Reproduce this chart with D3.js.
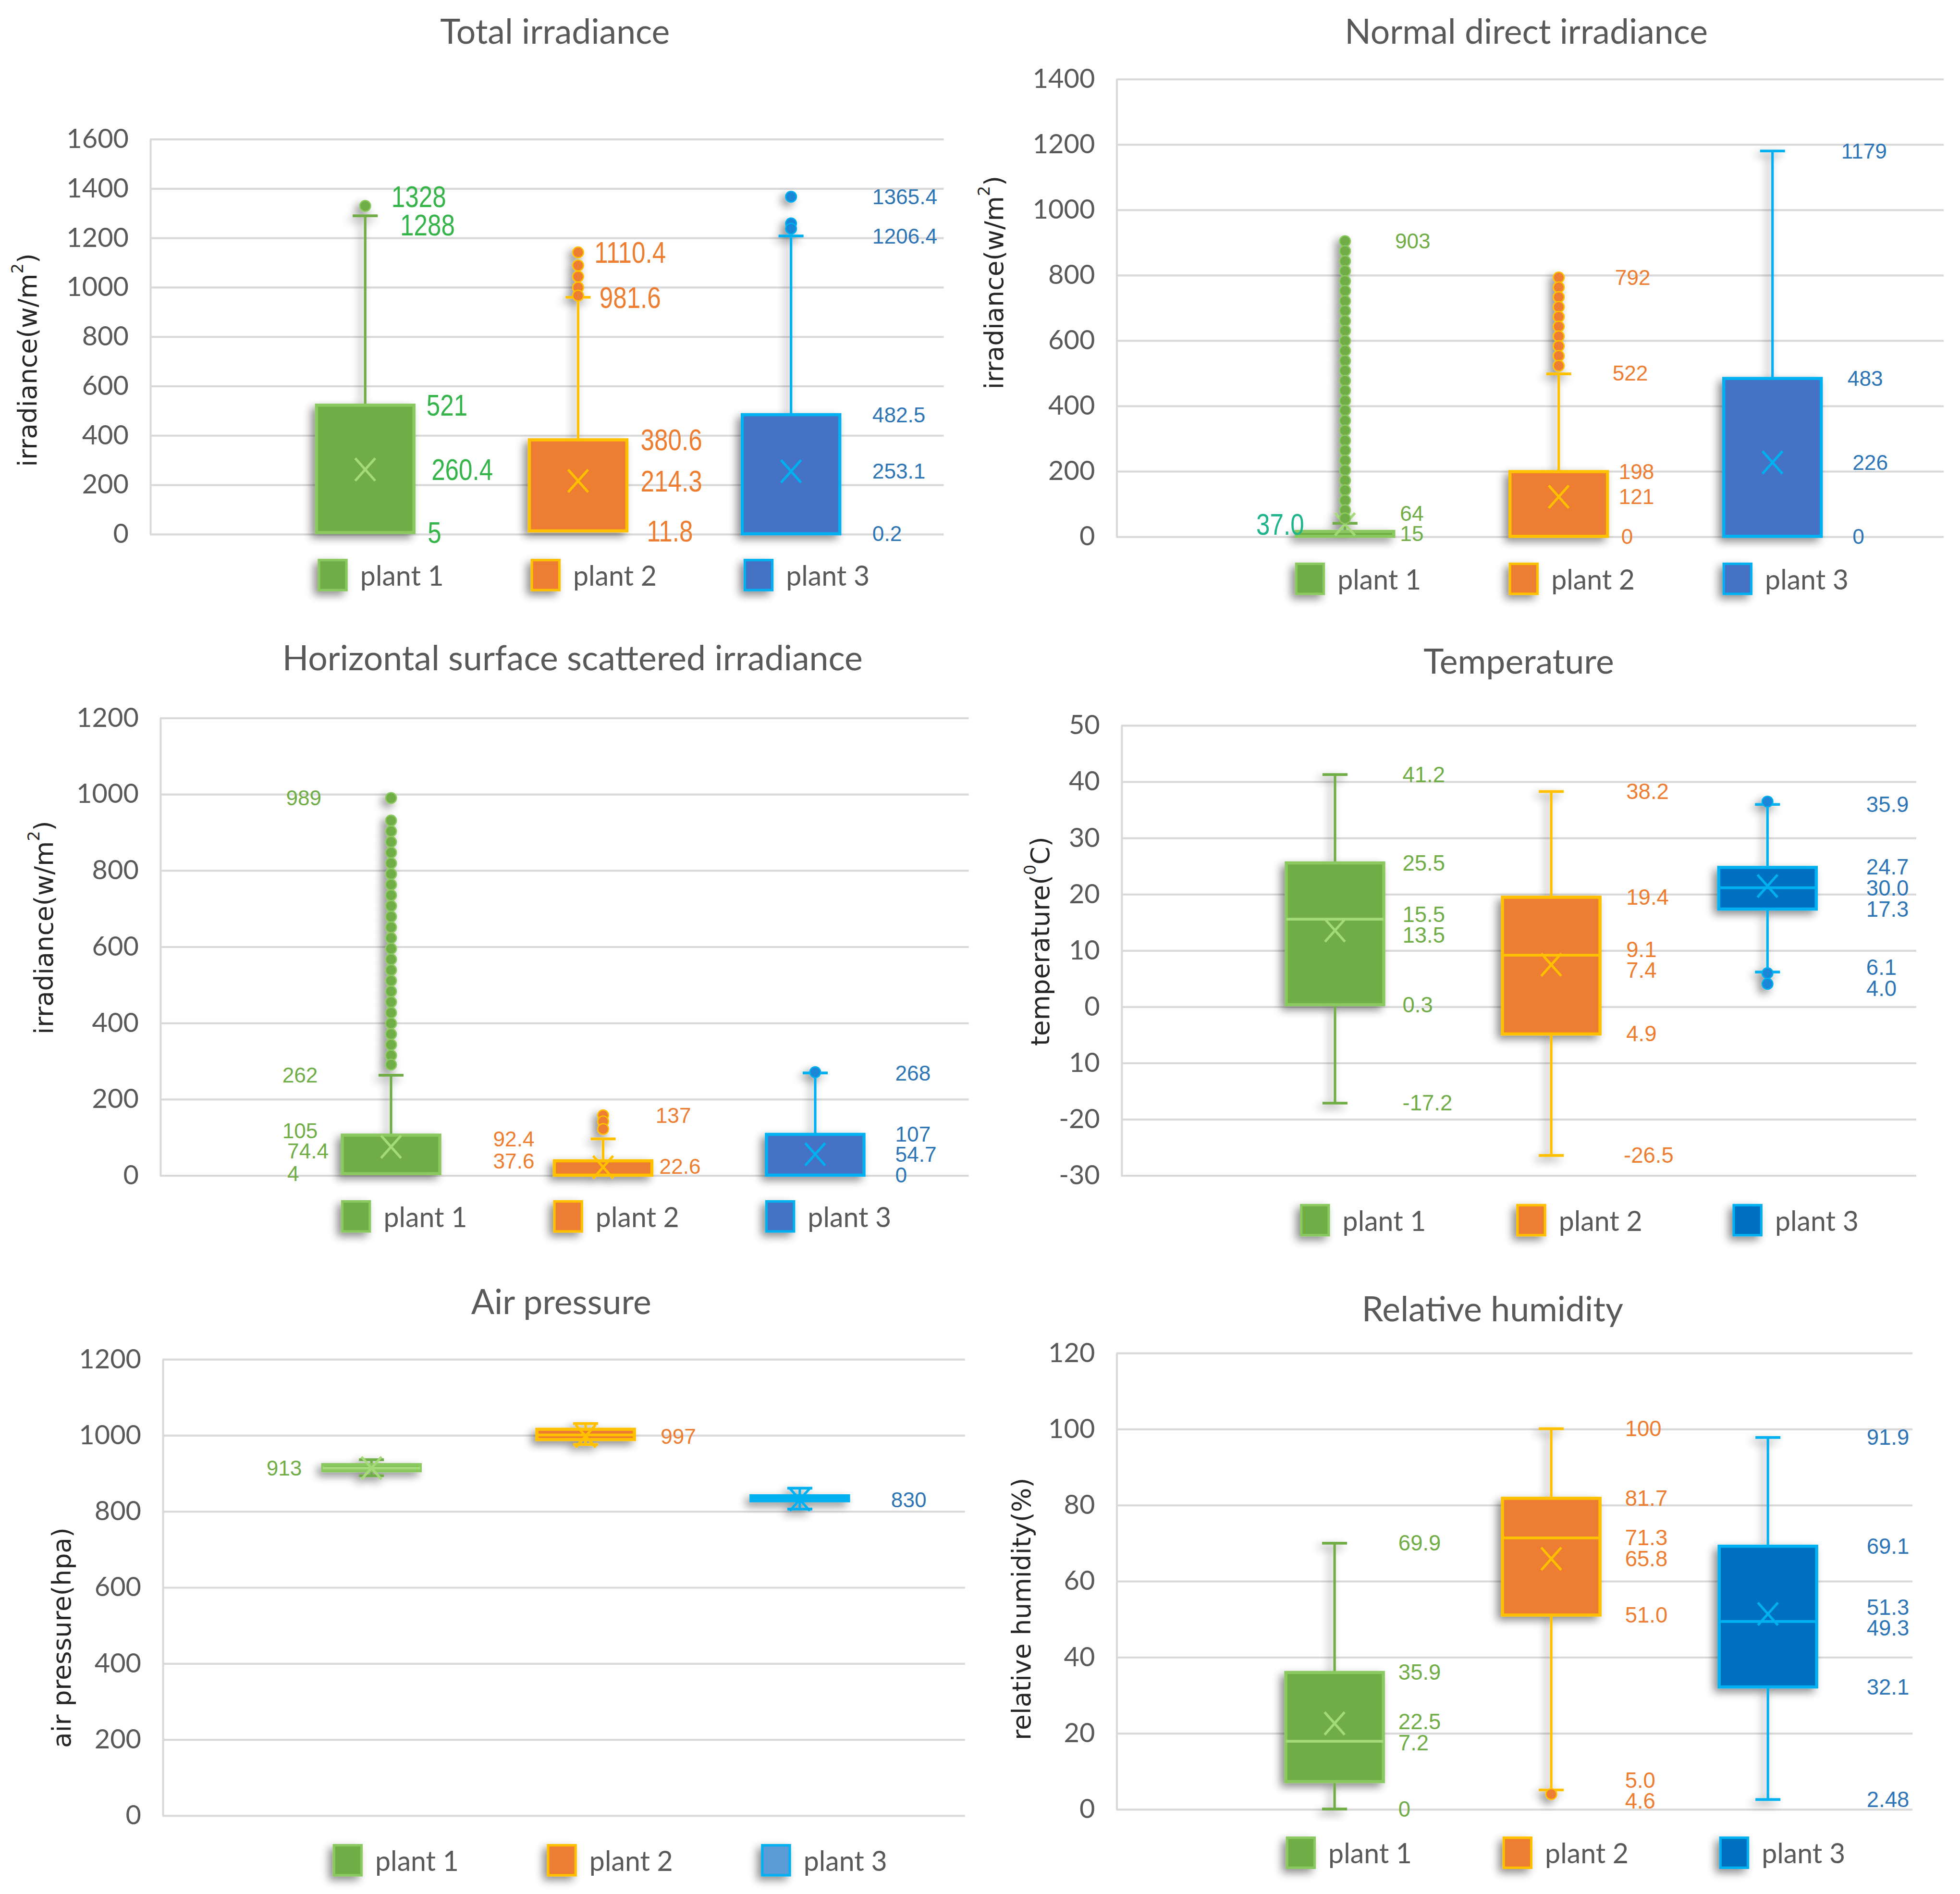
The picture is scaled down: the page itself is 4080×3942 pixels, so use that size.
<!DOCTYPE html>
<html lang="en">
<head>
<meta charset="UTF-8">
<title>Plant box plots</title>
<script src="https://cdn.jsdelivr.net/npm/d3@7"></script>
<style>
  body { margin: 0; background: #fff; }
  svg { display: block; }
</style>
</head>
<body>
<div id="chart"></div>
<script>
// ---- data ----
var plants = ["plant 1", "plant 2", "plant 3"];

// each box: [lower whisker, Q1, median, Q3, upper whisker, mean]
// tags: [value where the tag sits, printed text]
var totalBox = [
  [5, 5, null, 521, 1288, 260.4],
  [11.8, 11.8, null, 380.6, 958, 214.3],
  [0.2, 0.2, null, 482.5, 1206.4, 253.1]
];
var totalOut = [[1328], [1140, 1087, 1042, 998, 965], [1365.4, 1257, 1236]];
var totalTags = [
  [[1328, "1328"], [1288, "1288"], [521, "521"], [260.4, "260.4"], [5, "5"]],
  [[1140, "1110.4"], [958, "981.6"], [380.6, "380.6"], [214.3, "214.3"], [11.8, "11.8"]],
  [[1365.4, "1365.4"], [1206.4, "1206.4"], [482.5, "482.5"], [253.1, "253.1"], [0.2, "0.2"]]
];
var totalTicks = [0, 200, 400, 600, 800, 1000, 1200, 1400, 1600];

var directBox = [
  [0, 0, null, 15, 40, 37],
  [0, 0, null, 198, 497, 121],
  [0, 0, null, 483, 1179, 226]
];
var directOut = [
  [903, 873, 842, 812, 781, 751, 720, 690, 659, 629, 598, 568, 537, 507, 476, 446, 415, 385, 354, 324, 293, 263, 232, 202, 171, 141, 110, 80, 55],
  [792, 762, 732, 702, 672, 642, 612, 582, 552, 522],
  []
];
var directTags = [
  [[903, "903"], [64, "64"], [15, "15"], [37, "37.0"]],
  [[792, "792"], [500, "522"], [198, "198"], [121, "121"], [0, "0"]],
  [[1179, "1179"], [483, "483"], [226, "226"], [0, "0"]]
];
var directTicks = [0, 200, 400, 600, 800, 1000, 1200, 1400];

var diffuseBox = [
  [4, 4, null, 105, 262, 74.4],
  [0, 0, null, 37.6, 95, 21],
  [0, 0, null, 107, 268, 54.7]
];
var diffuseOut = [
  [989, 930, 902, 874, 846, 818, 790, 762, 734, 706, 678, 650, 622, 594, 566, 538, 510, 482, 454, 426, 398, 370, 342, 314, 290],
  [157, 141, 121],
  [270]
];
var diffuseTags = [
  [[989, "989"], [262, "262"], [105, "105"], [74.4, "74.4"], [4, "4"]],
  [[95, "92.4"], [37.6, "37.6"], [157, "137"], [22.6, "22.6"]],
  [[268, "268"], [107, "107"], [54.7, "54.7"], [0, "0"]]
];
var diffuseTicks = [0, 200, 400, 600, 800, 1000, 1200];

var tempBox = [
  [-17.2, 0.3, 15.5, 25.5, 41.2, 13.5],
  [-26.5, -4.9, 9.1, 19.4, 38.2, 7.4],
  [6.1, 17.3, 21.1, 24.7, 35.9, 21.4]
];
var tempOut = [[], [], [36.4, 5.9, 4.0]];
var tempTags = [
  [[41.2, "41.2"], [25.5, "25.5"], [15.5, "15.5"], [13.5, "13.5"], [0.3, "0.3"], [-17.2, "-17.2"]],
  [[38.2, "38.2"], [19.4, "19.4"], [9.1, "9.1"], [7.4, "7.4"], [-4.9, "4.9"], [-26.5, "-26.5"]],
  [[35.9, "35.9"], [24.7, "24.7"], [21.1, "30.0"], [17.3, "17.3"], [6.1, "6.1"], [4.0, "4.0"]]
];
var tempTicks = [-30, -20, -10, 0, 10, 20, 30, 40, 50];
var tempTickText = ["-30", "-20", "10", "0", "10", "20", "30", "40", "50"];

var pressBox = [
  [893, 906, 913, 922, 935, 913],
  [975, 988, 1000, 1015, 1030, 997],
  [805, 827, 834, 840, 860, 830]
];
var pressOut = [[], [], []];
var pressTags = [[[913, "913"]], [[997, "997"]], [[830, "830"]]];
var pressTicks = [0, 200, 400, 600, 800, 1000, 1200];

var humidBox = [
  [0, 7.2, 17.8, 35.9, 69.9, 22.5],
  [5.0, 51.0, 71.3, 81.7, 100, 65.8],
  [2.48, 32.1, 49.3, 69.1, 97.7, 51.3]
];
var humidOut = [[], [3.9], []];
var humidTags = [
  [[69.9, "69.9"], [35.9, "35.9"], [22.5, "22.5"], [17.8, "7.2"], [0, "0"]],
  [[100, "100"], [81.7, "81.7"], [71.3, "71.3"], [65.8, "65.8"], [51.0, "51.0"], [5.0, "5.0"], [4.6, "4.6"]],
  [[97.7, "91.9"], [69.1, "69.1"], [51.3, "51.3"], [49.3, "49.3"], [32.1, "32.1"], [2.48, "2.48"]]
];
var humidTicks = [0, 20, 40, 60, 80, 100, 120];

// ---- layout (drawing units, scaled to the page by the viewBox) ----
var W = 1568, H = 1515;
var panels = [
  { title: "Total irradiance", tx: 444, ty: 35, yl: ["irradiance(w/m", "2", ")"], ylx: 22, yly: 288,
    box: totalBox, out: totalOut, tags: totalTags, ticks: totalTicks, domain: [0, 1600],
    x0: 120, x1: 755, top: 111, bot: 427, band: [207, 718], legY: 460, legOff: -37,
    dx: [[21, 28, 49, 53, 50], [13, 17, 50, 50, 55], [65]], size: [24, 24, 17], narrow: [true, true, false],
    tagColor: ["#35B44A", "#ED7D31", "#2E75B6"], fill3: "#4472C4", leg3: "#4472C4" },
  { title: "Normal direct irradiance", tx: 1221, ty: 35, yl: ["irradiance(w/m", "2", ")"], ylx: 795, yly: 226,
    box: directBox, out: directOut, tags: directTags, ticks: directTicks, domain: [0, 1400],
    x0: 893, x1: 1555, top: 63, bot: 429, band: [990.5, 1503.5], legY: 463, legOff: -39,
    dx: [[40, 44, 44, -71], [45, 43, 48, 48, 50], [55, 60, 64, 64]], size: [17, 17, 17], narrow: [false, false, false],
    tagColor: ["#70AD47", "#ED7D31", "#2E75B6"], fill3: "#4472C4", leg3: "#4472C4",
    big: { k: 0, i: 3, color: "#1FB48C" } },
  { title: "Horizontal surface scattered irradiance", tx: 458, ty: 536, yl: ["irradiance(w/m", "2", ")"], ylx: 35, yly: 742,
    box: diffuseBox, out: diffuseOut, tags: diffuseTags, ticks: diffuseTicks, domain: [0, 1200],
    x0: 128, x1: 775, top: 574, bot: 940, band: [228, 737], legY: 973, legOff: -39,
    dx: [[-84, -87, -87, -83, -83], [-88, -88, 42, 45], [64]], size: [17, 17, 17], narrow: [false, false, false],
    tagColor: ["#70AD47", "#ED7D31", "#2E75B6"], fill3: "#4472C4", leg3: "#4472C4" },
  { title: "Temperature", tx: 1215, ty: 539, yl: ["temperature(", "0", "C)"], ylx: 832, yly: 753,
    box: tempBox, out: tempOut, tags: tempTags, ticks: tempTicks, tickText: tempTickText, domain: [-30, 50],
    x0: 897, x1: 1533, top: 580, bot: 940, band: [981.5, 1500.5], legY: 976, legOff: -27,
    dx: [[54], [60, 60, 60, 60, 60, 58], [79]], size: [17.5, 17.5, 17.5], narrow: [false, false, false],
    tagColor: ["#70AD47", "#ED7D31", "#2E75B6"], fill3: "#0070C0", leg3: "#0070C0" },
  { title: "Air pressure", tx: 449, ty: 1051, yl: ["air pressure(hpa)"], ylx: 49, yly: 1310,
    box: pressBox, out: pressOut, tags: pressTags, ticks: pressTicks, domain: [0, 1200],
    x0: 130, x1: 772, top: 1087, bot: 1452, band: [211.5, 725.5], legY: 1488, legOff: -30,
    dx: [[-84], [60], [73]], size: [17, 17, 17], narrow: [false, false, false],
    tagColor: ["#70AD47", "#ED7D31", "#2E75B6"], fill3: "#00B0F0", leg3: "#5B9BD5" },
  { title: "Relative humidity", tx: 1194, ty: 1057, yl: ["relative humidity(%)"], ylx: 817, yly: 1287,
    box: humidBox, out: humidOut, tags: humidTags, ticks: humidTicks, domain: [0, 120],
    x0: 893, x1: 1530, top: 1082, bot: 1447, band: [981, 1501], legY: 1482, legOff: -38,
    dx: [[51], [59], [79]], size: [17.5, 17.5, 17.5], narrow: [false, false, false],
    tagColor: ["#70AD47", "#ED7D31", "#2E75B6"], fill3: "#0070C0", leg3: "#0070C0" }
];

var edgeCol = ["#8BC860", "#FFC000", "#00B0F0"];
var lineCol = ["#70AD47", "#FFC000", "#00B0F0"];
var markCol = ["#A4DA7A", "#FFC000", "#00B0F0"];
var dotCol = ["#70AD47", "#ED7D31", "#1A86D6"];

var svg = d3.select("#chart").append("svg")
  .attr("width", 4080).attr("height", 3942)
  .attr("viewBox", "0 0 " + W + " " + H)
  .attr("preserveAspectRatio", "none");

// soft grey shadow like the office chart
var f = svg.append("defs").append("filter").attr("id", "shadow")
  .attr("filterUnits", "userSpaceOnUse").attr("x", 0).attr("y", 0).attr("width", W).attr("height", H);
f.append("feGaussianBlur").attr("in", "SourceAlpha").attr("stdDeviation", 3.5).attr("result", "b");
f.append("feOffset").attr("in", "b").attr("dx", -3).attr("dy", 3).attr("result", "o");
f.append("feComponentTransfer").attr("in", "o").attr("result", "s")
  .append("feFuncA").attr("type", "linear").attr("slope", 0.45);
var fm = f.append("feMerge");
fm.append("feMergeNode").attr("in", "s");
fm.append("feMergeNode").attr("in", "SourceGraphic");

// push overlapping tags apart
function spread(list, gap) {
  list.sort(function (a, b) { return a.y - b.y; });
  for (var it = 0; it < 30; it++) {
    for (var i = 1; i < list.length; i++) {
      var d = list[i].y - list[i - 1].y;
      if (d < gap) {
        var m = (gap - d) / 2;
        list[i - 1].y -= m;
        list[i].y += m;
      }
    }
  }
}

panels.forEach(function (p) {
  var g = svg.append("g");
  var y = d3.scaleLinear().domain(p.domain).range([p.bot, p.top]);
  var x = d3.scaleBand().domain(plants).range(p.band);

  // axis + gridlines
  var ax = g.append("g").attr("transform", "translate(" + p.x0 + ",0)")
    .call(d3.axisLeft(y).tickValues(p.ticks)
      .tickFormat(function (d, i) { return p.tickText ? p.tickText[i] : d; })
      .tickSize(-(p.x1 - p.x0)).tickSizeOuter(0).tickPadding(17))
    .attr("font-family", "Lato, 'Open Sans', sans-serif").attr("font-size", 21.5);
  ax.select(".domain").attr("stroke", "#d9d9d9").attr("stroke-width", 1.6);
  ax.selectAll(".tick line").attr("stroke", "#d9d9d9").attr("stroke-width", 1.6);
  ax.selectAll(".tick text").attr("fill", "#595959");

  // title
  g.append("text").attr("x", p.tx).attr("y", p.ty).attr("text-anchor", "middle")
    .attr("font-family", "Lato, sans-serif").attr("font-size", 27.5).attr("fill", "#595959")
    .text(p.title);

  // y axis title
  var yt = g.append("text").attr("transform", "translate(" + p.ylx + "," + p.yly + ") rotate(-90)")
    .attr("text-anchor", "middle").attr("dominant-baseline", "central")
    .attr("font-family", "'DejaVu Sans', Verdana, sans-serif").attr("font-size", 20.5).attr("fill", "#262626");
  yt.append("tspan").text(p.yl[0]);
  if (p.yl.length > 1) {
    yt.append("tspan").attr("dy", -8).attr("font-size", 13).text(p.yl[1]);
    yt.append("tspan").attr("dy", 8).text(p.yl[2]);
  }

  plants.forEach(function (name, k) {
    var b = p.box[k];
    var c = x(name) + x.bandwidth() / 2;
    var bw = 78, cap = 10;
    var fill = k === 0 ? "#70AD47" : (k === 1 ? "#ED7D31" : p.fill3);
    var pg = g.append("g").attr("filter", "url(#shadow)");

    // whiskers
    pg.append("line").attr("x1", c).attr("x2", c).attr("y1", y(b[3])).attr("y2", y(b[4]))
      .attr("stroke", lineCol[k]).attr("stroke-width", 2);
    pg.append("line").attr("x1", c - cap).attr("x2", c + cap).attr("y1", y(b[4])).attr("y2", y(b[4]))
      .attr("stroke", lineCol[k]).attr("stroke-width", 2.2);
    if (b[0] < b[1]) {
      pg.append("line").attr("x1", c).attr("x2", c).attr("y1", y(b[1])).attr("y2", y(b[0]))
        .attr("stroke", lineCol[k]).attr("stroke-width", 2);
      pg.append("line").attr("x1", c - cap).attr("x2", c + cap).attr("y1", y(b[0])).attr("y2", y(b[0]))
        .attr("stroke", lineCol[k]).attr("stroke-width", 2.2);
    }

    // box
    pg.append("rect").attr("x", c - bw / 2).attr("y", y(b[3]))
      .attr("width", bw).attr("height", Math.max(y(b[1]) - y(b[3]), 1.5))
      .attr("fill", fill).attr("stroke", edgeCol[k]).attr("stroke-width", 2.5);

    if (b[2] !== null) {
      pg.append("line").attr("x1", c - bw / 2).attr("x2", c + bw / 2).attr("y1", y(b[2])).attr("y2", y(b[2]))
        .attr("stroke", markCol[k]).attr("stroke-width", 2.2);
    }

    // mean cross
    var my = y(b[5]);
    pg.append("path")
      .attr("d", "M" + (c - 8) + "," + (my - 9) + "L" + (c + 8) + "," + (my + 9) +
                 "M" + (c + 8) + "," + (my - 9) + "L" + (c - 8) + "," + (my + 9))
      .attr("stroke", markCol[k]).attr("stroke-width", 2).attr("fill", "none");

    // outliers
    pg.selectAll("circle").data(p.out[k]).enter().append("circle")
      .attr("cx", c).attr("cy", function (d) { return y(d); }).attr("r", 4.3)
      .attr("fill", dotCol[k]).attr("stroke", edgeCol[k]).attr("stroke-width", 1);

    // value tags
    var tags = p.tags[k].map(function (t, i) {
      var d = p.dx[k][Math.min(i, p.dx[k].length - 1)];
      var big = p.big && p.big.k === k && p.big.i === i;
      return { y: y(t[0]), text: t[1], x: c + d, left: d < 0, big: big };
    });
    [true, false].forEach(function (side) {
      var part = tags.filter(function (t) { return t.left === side && !t.big; });
      spread(part, p.size[k] * 0.95);
    });
    g.selectAll(null).data(tags).enter().append("text")
      .attr("transform", function (t) {
        var squeeze = (p.narrow[k] || t.big) ? 0.82 : 1;
        return "translate(" + t.x + "," + t.y + ") scale(" + squeeze + ",1)";
      })
      .attr("dominant-baseline", "central")
      .attr("font-family", "'Liberation Sans', Arial, sans-serif")
      .attr("font-size", function (t) { return t.big ? 24 : p.size[k]; })
      .attr("fill", function (t) { return t.big ? p.big.color : p.tagColor[k]; })
      .text(function (t) { return t.text; });

    // legend
    var lx = c + p.legOff;
    g.append("rect").attr("x", lx).attr("y", p.legY - 12).attr("width", 22).attr("height", 24)
      .attr("fill", k === 2 ? p.leg3 : fill).attr("stroke", edgeCol[k]).attr("stroke-width", 2)
      .attr("filter", "url(#shadow)");
    g.append("text").attr("x", lx + 33).attr("y", p.legY).attr("dominant-baseline", "central")
      .attr("font-family", "Lato, sans-serif").attr("font-size", 22).attr("fill", "#595959")
      .text(name);
  });
});
</script>
</body>
</html>
